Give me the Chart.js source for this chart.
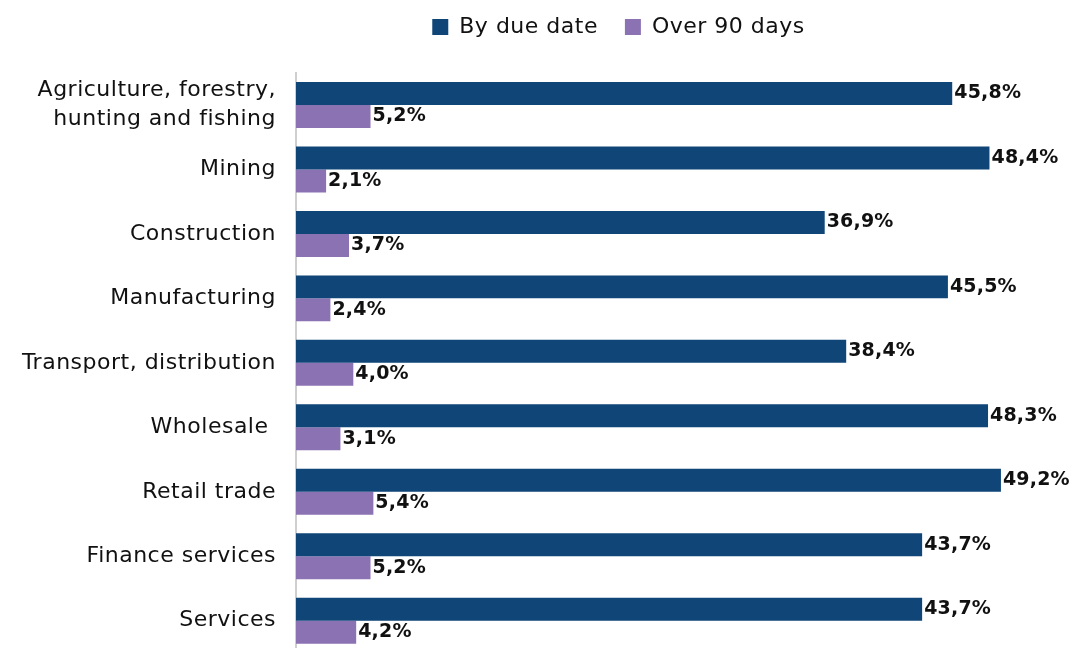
<!DOCTYPE html>
<html>
<head>
<meta charset="utf-8">
<script src="https://cdn.jsdelivr.net/npm/chart.js@4/dist/chart.umd.min.js"></script>
<style>
  html, body { margin: 0; padding: 0; overflow: hidden; background: #fff; }
  canvas { display: block; }
</style>
</head>
<body>
<canvas id="chart" width="1074" height="656"></canvas>
<script>
const categories = [
  ['Agriculture, forestry,', 'hunting and fishing'],
  'Mining',
  'Construction',
  'Manufacturing',
  'Transport, distribution',
  'Wholesale ',
  'Retail trade',
  'Finance services',
  'Services'
];
const byDueDate = [45.8, 48.4, 36.9, 45.5, 38.4, 48.3, 49.2, 43.7, 43.7];
const over90Days = [5.2, 2.1, 3.7, 2.4, 4.0, 3.1, 5.4, 5.2, 4.2];

const fontFamily = '"DejaVu Sans", sans-serif';

// etiquetas de valor no fim das barras
const valueLabels = {
  id: 'valueLabels',
  beforeUpdate(chart) {
    // a fonte original é mais larga
    chart.ctx.letterSpacing = '0.5px';
  },
  afterLayout(chart) {
    // legenda centrada sobre a área do gráfico, não sobre o canvas todo
    chart.legend.left = 163;
  },
  beforeDraw(chart) {
    chart.ctx.letterSpacing = '0.5px';
  },
  afterDatasetsDraw(chart) {
    const ctx = chart.ctx;
    ctx.save();
    ctx.letterSpacing = '0.2px';
    ctx.font = 'bold 19px ' + fontFamily;
    ctx.fillStyle = '#111';
    ctx.textAlign = 'left';
    ctx.textBaseline = 'middle';
    chart.data.datasets.forEach((ds, i) => {
      chart.getDatasetMeta(i).data.forEach((bar, j) => {
        const txt = ds.data[j].toFixed(1).replace('.', ',') + '%';
        ctx.fillText(txt, bar.x + 2, bar.y);
      });
    });
    ctx.restore();
  }
};

new Chart(document.getElementById('chart'), {
  type: 'bar',
  data: {
    labels: categories,
    datasets: [
      {
        label: 'By due date  ',
        data: byDueDate,
        backgroundColor: '#0f4577',
        categoryPercentage: 0.713,
        barPercentage: 1.0
      },
      {
        label: 'Over 90 days',
        data: over90Days,
        backgroundColor: '#8b72b3',
        categoryPercentage: 0.713,
        barPercentage: 1.0
      }
    ]
  },
  options: {
    indexAxis: 'y',
    responsive: false,
    animation: false,
    layout: { padding: { top: 4, right: 0, left: 0, bottom: 3 } },
    plugins: {
      legend: {
        position: 'top',
        labels: {
          font: { family: fontFamily, size: 22 },
          color: '#111',
          boxWidth: 16,
          boxHeight: 16,
          padding: 12
        }
      },
      tooltip: { enabled: false }
    },
    scales: {
      x: {
        position: 'top',
        min: 0,
        max: 54.3,
        grid: { display: false },
        border: { display: false },
        ticks: { display: false },
        afterFit(scale) { scale.height = 24.7; }
      },
      y: {
        grid: { display: false },
        border: { color: '#cfcfcf', width: 2 },
        ticks: {
          font: { family: fontFamily, size: 22, lineHeight: 1.3 },
          color: '#111',
          padding: 12
        },
        afterFit(scale) {
          scale.width = 296;
          scale.paddingTop = 0;
          scale.paddingBottom = 0;
        }
      }
    }
  },
  plugins: [valueLabels]
});
</script>
</body>
</html>
